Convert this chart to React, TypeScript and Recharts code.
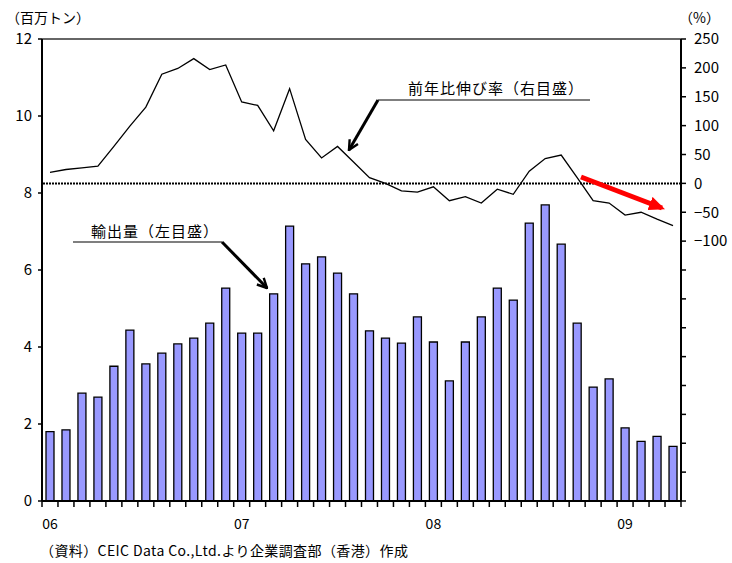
import { Bar, ComposedChart, Line, ReferenceLine, XAxis, YAxis } from 'recharts'

// Jan 2006 - Apr 2009, monthly
const months = [
  '06/01', '06/02', '06/03', '06/04', '06/05', '06/06', '06/07', '06/08', '06/09', '06/10', '06/11', '06/12',
  '07/01', '07/02', '07/03', '07/04', '07/05', '07/06', '07/07', '07/08', '07/09', '07/10', '07/11', '07/12',
  '08/01', '08/02', '08/03', '08/04', '08/05', '08/06', '08/07', '08/08', '08/09', '08/10', '08/11', '08/12',
  '09/01', '09/02', '09/03', '09/04',
]

// 輸出量 (百万トン)
const exportsVol = [
  1.8, 1.85, 2.8, 2.7, 3.5, 4.44, 3.56, 3.84, 4.08, 4.23, 4.62, 5.53,
  4.36, 4.36, 5.38, 7.14, 6.16, 6.34, 5.92, 5.38, 4.42, 4.23, 4.1, 4.78,
  4.13, 3.12, 4.13, 4.78, 5.53, 5.22, 7.22, 7.69, 6.67, 4.62, 2.96, 3.17,
  1.9, 1.55, 1.68, 1.42,
]

// 前年比伸び率 (%)
const yoyGrowth = [
  19, 24, 27, 30, 64, 99, 132, 189, 199, 216, 197, 205,
  141, 135, 91, 164, 76, 44, 64, 37, 10, 0, -13, -15,
  -6, -30, -23, -34, -10, -19, 21, 43, 49, 10, -30, -34,
  -55, -50, -62, -73,
]

const leftTicks = [0, 2, 4, 6, 8, 10, 12]
const rightTicks = [
  -550, -500, -450, -400, -350, -300, -250, -200, -150, -100, -50, 0, 50, 100, 150, 200, 250,
]

const data = months.map((m, i) => ({ month: m, vol: exportsVol[i], yoy: yoyGrowth[i] }))

const FONT = '"Noto Sans CJK JP", "Noto Sans", sans-serif'

function MonthTick(props: any) {
  const { x, y, payload, index } = props
  const half = 639 / 40 / 2
  const label = payload.value.endsWith('/01') ? payload.value.slice(0, 2) : ''
  return (
    <g>
      <line x1={x - half} y1={y - 8} x2={x - half} y2={y - 2} stroke="#000" strokeWidth={1.5} />
      {index === months.length - 1 && (
        <line x1={x + half} y1={y - 8} x2={x + half} y2={y - 2} stroke="#000" strokeWidth={1.5} />
      )}
      {label && (
        <text x={x} y={y + 20} textAnchor="middle" fontSize={14} fill="#000" fontFamily={FONT}>
          {label}
        </text>
      )}
    </g>
  )
}

export default function App() {
  return (
    <div style={{ position: 'absolute', left: 0, top: 0, width: 732, height: 563, background: '#fff', fontFamily: FONT }}>
      <ComposedChart
        width={732}
        height={563}
        data={data}
        margin={{ top: 39, right: 0, bottom: 32, left: 0 }}
        barCategoryGap="50%"
      >
        <XAxis
          dataKey="month"
          interval={0}
          tickLine={false}
          axisLine={{ stroke: '#000', strokeWidth: 2 }}
          tick={<MonthTick />}
          height={30}
        />
        <YAxis
          yAxisId="left"
          domain={[0, 12]}
          ticks={leftTicks}
          width={42}
          axisLine={{ stroke: '#000', strokeWidth: 2 }}
          tickLine={{ stroke: '#000', strokeWidth: 1.5 }}
          tickSize={4}
          tick={{ fill: '#000', fontSize: 15, fontFamily: FONT }}
          tickMargin={6}
        />
        <YAxis
          yAxisId="right"
          orientation="right"
          domain={[-550, 250]}
          ticks={rightTicks}
          interval={0}
          width={51}
          axisLine={{ stroke: '#000', strokeWidth: 2 }}
          tickLine={{ stroke: '#000', strokeWidth: 1.5 }}
          tickSize={5}
          tickMargin={8}
          tick={{ fill: '#000', fontSize: 15, fontFamily: FONT }}
          tickFormatter={(v: number) => (v < -100 ? '' : v < 0 ? '\u2212' + Math.abs(v) : String(v))}
        />
        <ReferenceLine yAxisId="left" y={12} stroke="#666" strokeWidth={2} />
        <Bar
          yAxisId="left"
          dataKey="vol"
          fill="#9999FF"
          stroke="#000"
          strokeWidth={1.3}
          barSize={8}
          isAnimationActive={false}
        />
        <ReferenceLine yAxisId="right" y={0} stroke="#000" strokeWidth={2} strokeDasharray="2 1" />
        <Line
          yAxisId="right"
          dataKey="yoy"
          type="linear"
          stroke="#000"
          strokeWidth={1.3}
          dot={false}
          isAnimationActive={false}
        />
      </ComposedChart>

      <svg width={732} height={563} style={{ position: 'absolute', left: 0, top: 0, pointerEvents: 'none' }}>
        <defs>
          <marker id="blackHead" viewBox="0 0 10 10" refX="9" refY="5" markerWidth="4" markerHeight="4" orient="auto">
            <polyline points="1,1 9,5 1,9" fill="none" stroke="#000" strokeWidth={2} />
          </marker>
          <marker id="redHead" viewBox="0 0 10 10" refX="8" refY="5" markerWidth="3.2" markerHeight="2.8" orient="auto" preserveAspectRatio="none">
            <polygon points="0,0 10,5 0,10" fill="#ff0000" />
          </marker>
        </defs>
        <text x={6} y={23} fontSize={14} fill="#000" fontFamily={FONT}>（百万トン）</text>
        <text x={679} y={23} fontSize={14} fill="#000" fontFamily={FONT}>（%）</text>

        <text x={408} y={94} fontSize={15} fill="#000" fontFamily={FONT} letterSpacing={1}>前年比伸び率（右目盛）</text>
        <line x1={378} y1={100} x2={590} y2={100} stroke="#000" strokeWidth={1.2} />
        <line x1={378} y1={100} x2={349} y2={150} stroke="#000" strokeWidth={3} markerEnd="url(#blackHead)" />

        <text x={91} y={237} fontSize={15} fill="#000" fontFamily={FONT} letterSpacing={1}>輸出量（左目盛）</text>
        <line x1={73} y1={242} x2={222} y2={242} stroke="#000" strokeWidth={1.2} />
        <line x1={222} y1={242} x2={267} y2={288} stroke="#000" strokeWidth={3} markerEnd="url(#blackHead)" />

        <line x1={581} y1={177} x2={662} y2={208} stroke="#ff0000" strokeWidth={5} markerEnd="url(#redHead)" />

        <text x={40} y={556} fontSize={14} fill="#000" fontFamily={FONT} letterSpacing={0.4}>（資料）CEIC Data Co.,Ltd.より企業調査部（香港）作成</text>
      </svg>
    </div>
  )
}
